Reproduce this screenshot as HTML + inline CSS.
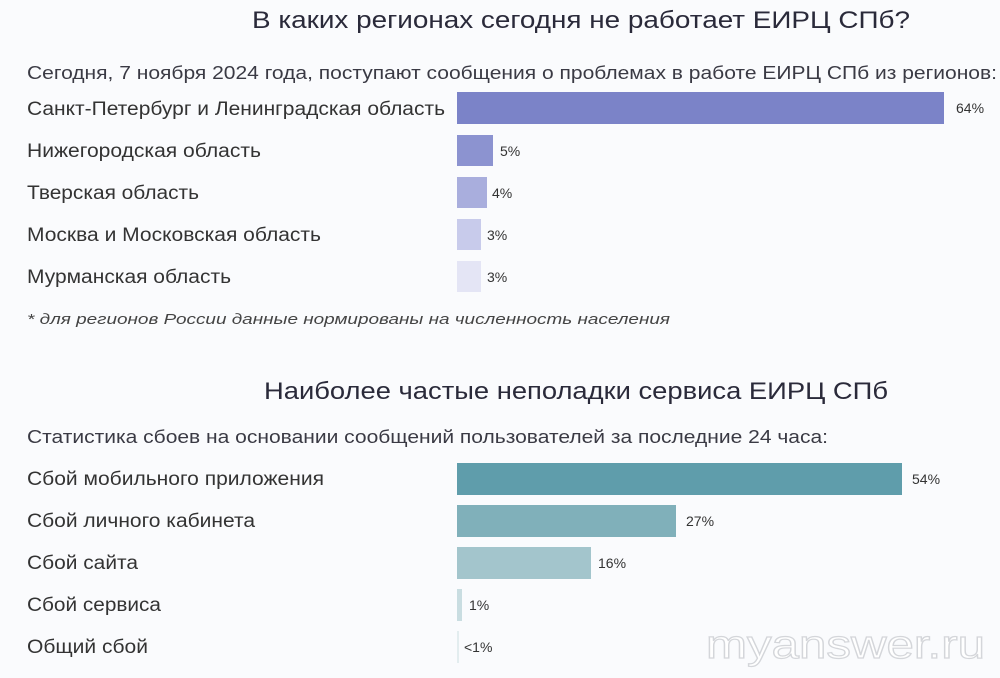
<!DOCTYPE html>
<html><head><meta charset="utf-8"><style>
html,body{margin:0;padding:0;background:#fafbfd;}
svg{display:block;font-family:"Liberation Sans","DejaVu Sans",sans-serif;}
.t{fill:#2a2a3a;font-size:24px;}
.s{fill:#3a3a44;font-size:18px;}
.l{fill:#333;font-size:19px;}
.v{fill:#333;font-size:14px;}
</style></head><body>
<svg width="1000" height="678" viewBox="0 0 1000 678" xmlns="http://www.w3.org/2000/svg">
<rect width="1000" height="678" fill="#fafbfd"/>
<text class="t" x="252" y="28" textLength="658" lengthAdjust="spacingAndGlyphs">В каких регионах сегодня не работает ЕИРЦ СПб?</text>
<text class="s" x="27" y="79" textLength="970" lengthAdjust="spacingAndGlyphs">Сегодня, 7 ноября 2024 года, поступают сообщения о проблемах в работе ЕИРЦ СПб из регионов:</text>

<rect x="457" y="92" width="487" height="32" fill="#7b83c8"/>
<rect x="457" y="135" width="36" height="31" fill="#8c93d0"/>
<rect x="457" y="177" width="30" height="31" fill="#a9aedd"/>
<rect x="457" y="219" width="24" height="31" fill="#c8cbeb"/>
<rect x="457" y="261" width="24" height="31" fill="#e4e5f5"/>
<text class="l" x="27" y="115" textLength="418" lengthAdjust="spacingAndGlyphs">Санкт-Петербург и Ленинградская область</text>
<text class="l" x="27" y="157" textLength="234" lengthAdjust="spacingAndGlyphs">Нижегородская область</text>
<text class="l" x="27" y="199" textLength="172" lengthAdjust="spacingAndGlyphs">Тверская область</text>
<text class="l" x="27" y="241" textLength="294" lengthAdjust="spacingAndGlyphs">Москва и Московская область</text>
<text class="l" x="27" y="283" textLength="204" lengthAdjust="spacingAndGlyphs">Мурманская область</text>
<text class="v" x="956" y="113">64%</text>
<text class="v" x="500" y="156">5%</text>
<text class="v" x="492" y="198">4%</text>
<text class="v" x="487" y="240">3%</text>
<text class="v" x="487" y="282">3%</text>
<text x="27" y="324" font-size="15" font-style="italic" fill="#444" textLength="643" lengthAdjust="spacingAndGlyphs">* для регионов России данные нормированы на численность населения</text>

<text class="t" x="264" y="399" textLength="624" lengthAdjust="spacingAndGlyphs">Наиболее частые неполадки сервиса ЕИРЦ СПб</text>
<text class="s" x="27" y="443" textLength="801" lengthAdjust="spacingAndGlyphs">Статистика сбоев на основании сообщений пользователей за последние 24 часа:</text>

<rect x="457" y="463" width="445" height="32" fill="#5f9dab"/>
<rect x="457" y="505" width="219" height="32" fill="#80b0ba"/>
<rect x="457" y="547" width="134" height="32" fill="#a3c5cc"/>
<rect x="457" y="589" width="5" height="32" fill="#c9dde1"/>
<rect x="457" y="631" width="2" height="32" fill="#e3edef"/>
<text class="l" x="27" y="485" textLength="297" lengthAdjust="spacingAndGlyphs">Сбой мобильного приложения</text>
<text class="l" x="27" y="527" textLength="228" lengthAdjust="spacingAndGlyphs">Сбой личного кабинета</text>
<text class="l" x="27" y="569" textLength="111" lengthAdjust="spacingAndGlyphs">Сбой сайта</text>
<text class="l" x="27" y="611" textLength="134" lengthAdjust="spacingAndGlyphs">Сбой сервиса</text>
<text class="l" x="27" y="653" textLength="121" lengthAdjust="spacingAndGlyphs">Общий сбой</text>
<text class="v" x="912" y="484">54%</text>
<text class="v" x="686" y="526">27%</text>
<text class="v" x="598" y="568">16%</text>
<text class="v" x="469" y="610">1%</text>
<text class="v" x="464" y="652">&lt;1%</text>

<text x="706" y="658" font-size="40" fill="#ffffff" stroke="#d4d6da" stroke-width="1.2" textLength="279" lengthAdjust="spacingAndGlyphs">myanswer.ru</text>
</svg>
</body></html>
